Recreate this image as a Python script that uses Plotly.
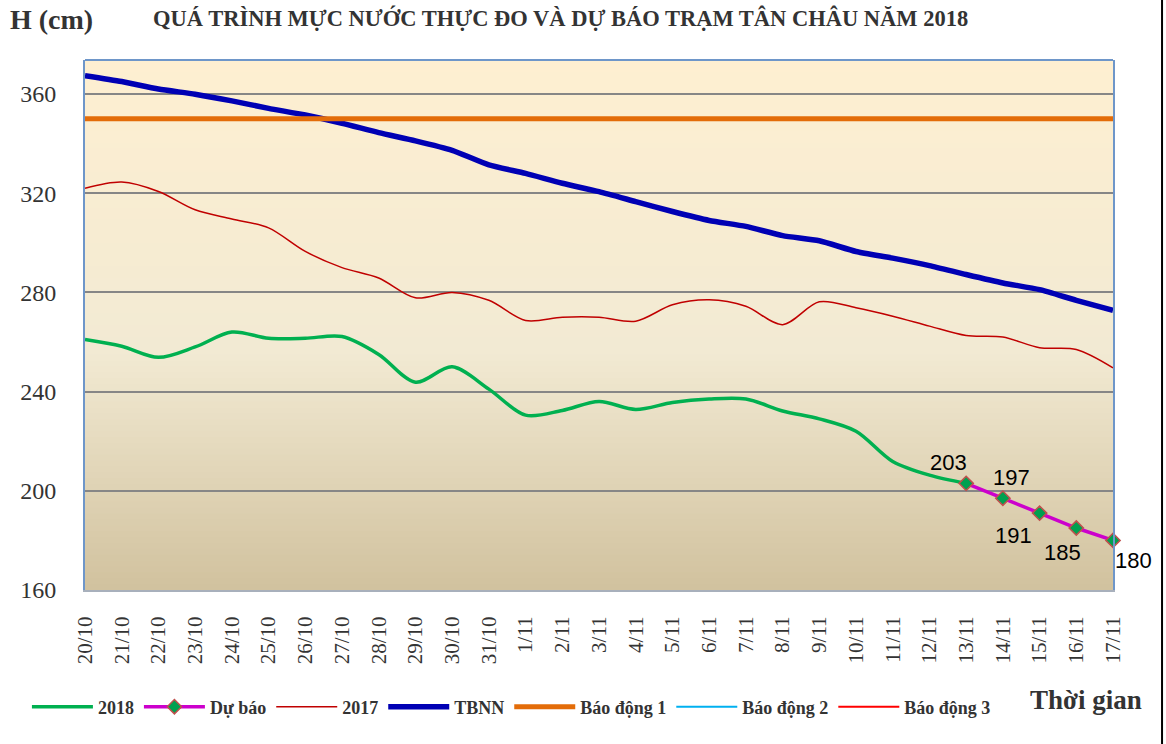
import plotly.graph_objects as go

dates = ["20/10", "21/10", "22/10", "23/10", "24/10", "25/10", "26/10", "27/10", "28/10",
         "29/10", "30/10", "31/10", "1/11", "2/11", "3/11", "4/11", "5/11", "6/11", "7/11",
         "8/11", "9/11", "10/11", "11/11", "12/11", "13/11", "14/11", "15/11", "16/11", "17/11"]

obs_2018 = [261, 258.3, 253.8, 258, 264, 261.5, 261.5, 262.2, 255, 243.8, 250, 241, 230.5,
            232.4, 236, 232.8, 235.6, 237, 237, 232.2, 229, 224, 211.8, 206.3, 203]

fc_dates = ["13/11", "14/11", "15/11", "16/11", "17/11"]
forecast = [203, 197, 191, 185, 180]

y2017 = [322, 324.5, 320.7, 313.3, 309.6, 306, 296.5, 290, 285.8, 277.8, 280, 276.8, 268.7,
         270, 270, 268.4, 275, 277, 274.4, 267, 276.2, 273.8, 270.4, 266.4, 262.6, 262,
         257.7, 257, 249.6]

tbnn = [367.4, 365, 362, 359.9, 357.2, 354.2, 351.5, 348.2, 344.4, 341.1, 337.3, 331.4, 328,
        324, 320.6, 316.6, 312.6, 309, 306.6, 302.9, 300.8, 296.5, 293.8, 290.8, 287.2,
        283.8, 281.1, 276.8, 272.8]

bd1 = 350
bd2 = 400
bd3 = 450

# pixel offsets of the forecast value labels relative to their markers
label_shift = [(-18, 21), (9, 21), (-26, -22), (-14, -24), (20, -20)]

fig = go.Figure()

fig.add_trace(go.Scatter(x=dates[:len(obs_2018)], y=obs_2018, name="2018", mode="lines",
                         line=dict(color="#00B050", width=3.5, shape="spline", smoothing=0.9)))
fig.add_trace(go.Scatter(x=fc_dates, y=forecast, name="Dự báo", mode="lines+markers",
                         line=dict(color="#CC00CC", width=3.5),
                         marker=dict(symbol="diamond", size=11, color="#00A050",
                                     line=dict(color="#C0504D", width=1.5)),
                         cliponaxis=False))
fig.add_trace(go.Scatter(x=dates, y=y2017, name="2017", mode="lines",
                         line=dict(color="#C00000", width=1.5, shape="spline", smoothing=0.9)))
fig.add_trace(go.Scatter(x=dates, y=tbnn, name="TBNN", mode="lines",
                         line=dict(color="#0000B4", width=5.5, shape="spline", smoothing=0.6)))
fig.add_trace(go.Scatter(x=dates, y=[bd1] * len(dates), name="Báo động 1", mode="lines",
                         line=dict(color="#E36C09", width=5)))
fig.add_trace(go.Scatter(x=dates, y=[bd2] * len(dates), name="Báo động 2", mode="lines",
                         line=dict(color="#00B0F0", width=2)))
fig.add_trace(go.Scatter(x=dates, y=[bd3] * len(dates), name="Báo động 3", mode="lines",
                         line=dict(color="#FF0000", width=2)))

# gradient background for the plot area
def lerp(c1, c2, t):
    return tuple(round(a + (b - a) * t) for a, b in zip(c1, c2))

stops = [(0.0, (254, 239, 209)), (0.55, (242, 234, 211)), (1.0, (209, 194, 158))]
shapes = []
n = 90
for i in range(n):
    y0 = i / n
    y1 = (i + 1) / n
    tpos = 1 - (y0 + y1) / 2  # 0 at top, 1 at bottom
    for j in range(len(stops) - 1):
        if stops[j][0] <= tpos <= stops[j + 1][0]:
            tt = (tpos - stops[j][0]) / (stops[j + 1][0] - stops[j][0])
            c = lerp(stops[j][1], stops[j + 1][1], tt)
            break
    shapes.append(dict(type="rect", xref="x domain", yref="y domain", x0=0, x1=1,
                       y0=y0, y1=y1 + 0.002, fillcolor="rgb(%d,%d,%d)" % c,
                       line=dict(width=0), layer="below"))
# top border of plot area
shapes.append(dict(type="line", xref="x domain", yref="y domain", x0=0, x1=1, y0=1, y1=1,
                   line=dict(color="#6E96C9", width=2), layer="above"))
# right outer frame line
shapes.append(dict(type="line", xref="paper", yref="paper", x0=1.0477, x1=1.0477,
                   y0=-0.3, y1=1.14, line=dict(color="#000000", width=2)))

serif = "Liberation Serif"

annotations = [
    dict(text="<b>H (cm)</b>", xref="paper", yref="paper", x=-0.0749, y=1.077,
         xanchor="left", yanchor="middle", showarrow=False,
         font=dict(family=serif, size=28, color="#333333")),
    dict(text="<b>QUÁ TRÌNH MỰC NƯỚC THỰC ĐO VÀ DỰ BÁO TRẠM TÂN CHÂU NĂM 2018</b>",
         xref="paper", yref="paper", x=0.463, y=1.079, xanchor="center", yanchor="middle",
         showarrow=False, font=dict(family=serif, size=22.5, color="#333333")),
    dict(text="<b>Thời gian</b>", xref="paper", yref="paper", x=0.9737, y=-0.2075,
         xanchor="center", yanchor="middle", showarrow=False,
         font=dict(family=serif, size=27, color="#333333")),
]
for d, v, (dx, dy) in zip(fc_dates, forecast, label_shift):
    annotations.append(dict(x=d, y=v, xref="x", yref="y", text=str(v), showarrow=False,
                            xshift=dx, yshift=dy, xanchor="center", yanchor="middle",
                            font=dict(family="Liberation Sans", size=22, color="#000000")))

fig.update_layout(
    width=1166, height=744,
    margin=dict(l=85, r=53, t=60, b=154),
    paper_bgcolor="#FFFFFF",
    plot_bgcolor="#F5ECD4",
    shapes=shapes,
    showlegend=True,
    legend=dict(orientation="h", x=-0.0565, xanchor="left", y=-0.2208, yanchor="middle",
                font=dict(family=serif, size=18, color="#333333", weight="bold"),
                traceorder="normal", itemwidth=61,
                bgcolor="rgba(0,0,0,0)"),
    xaxis=dict(type="category", categoryorder="array", categoryarray=dates,
               range=[0, len(dates) - 1], showgrid=False, tickangle=-90,
               tickfont=dict(family=serif, size=21, color="#333333"),
               showline=True, linecolor="#A8B0BC", linewidth=2, ticks="", zeroline=False,
               automargin=False, ticklabelstandoff=16),
    yaxis=dict(range=[160, 373.7], tickvals=[160, 200, 240, 280, 320, 360],
               showgrid=True, gridcolor="#868686", gridwidth=1.5,
               tickfont=dict(family=serif, size=24, color="#333333"),
               showline=True, linecolor="#6E96C9", linewidth=2, mirror=True,
               ticks="", zeroline=False, ticklabelstandoff=22, automargin=False),
    annotations=annotations,
)

fig.write_html("out.html", config={"displayModeBar": False},
               post_script="document.body.style.margin='0px';")
